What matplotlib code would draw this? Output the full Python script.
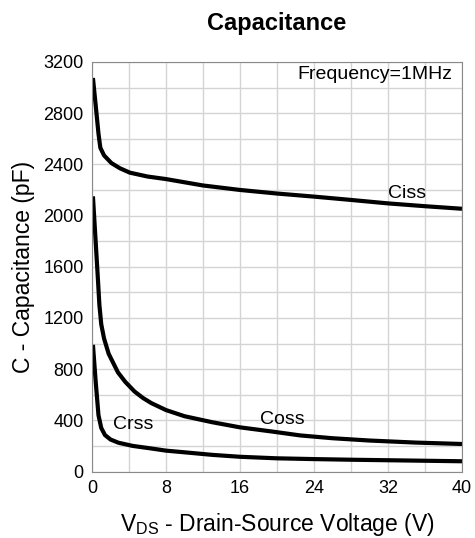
import matplotlib
matplotlib.use("Agg")
from matplotlib import pyplot as plt
from matplotlib.ticker import MultipleLocator

plt.rcParams['font.family'] = ['Liberation Sans', 'DejaVu Sans']

# values (VDS in V, C in pF)
ciss_v = [0.1, 0.4, 0.7, 0.9, 1.3, 2.1, 3.0, 4.1, 6.0, 8.0, 12, 16, 20, 24, 28, 32, 36, 40]
ciss_c = [3075, 2860, 2640, 2530, 2470, 2410, 2370, 2335, 2305, 2285, 2235, 2200, 2172, 2148, 2122, 2095, 2073, 2053]

coss_v = [0.1, 0.35, 0.6, 0.8, 1.0, 1.3, 1.8, 2.8, 3.6, 4.6, 5.5, 6.4, 8.0, 10, 13, 16, 19.5, 22.5, 26, 30, 35, 40]
coss_c = [2150, 1850, 1550, 1300, 1150, 1040, 920, 775, 700, 625, 575, 535, 480, 432, 385, 345, 312, 282, 260, 242, 226, 215]

crss_v = [0.1, 0.4, 0.7, 1.0, 1.4, 2.0, 2.85, 4.4, 6.4, 8.0, 10, 13, 16, 20, 24, 28, 32, 36, 40]
crss_c = [990, 700, 440, 340, 285, 250, 225, 200, 180, 163, 150, 130, 115, 103, 97, 92, 88, 84, 80]

fig = plt.figure(figsize=(4.75, 5.38), dpi=100)
ax = fig.add_axes([0.1937, 0.1236, 0.7789, 0.7612])

ax.plot(ciss_v, ciss_c, color="black", linewidth=3, solid_capstyle="butt")
ax.plot(coss_v, coss_c, color="black", linewidth=3, solid_capstyle="butt")
ax.plot(crss_v, crss_c, color="black", linewidth=3, solid_capstyle="butt")

ax.text(34.1, 2175, "Ciss", fontsize=14, ha="center", va="center")
ax.text(20.6, 410, "Coss", fontsize=14, ha="center", va="center")
ax.text(4.4, 364, "Crss", fontsize=14, ha="center", va="center")
ax.text(39.0, 3100, "Frequency=1MHz", fontsize=14, ha="right", va="center")

ax.set_xlim(0, 40)
ax.set_ylim(0, 3200)
ax.xaxis.set_major_locator(MultipleLocator(8))
ax.xaxis.set_minor_locator(MultipleLocator(4))
ax.yaxis.set_major_locator(MultipleLocator(400))
ax.yaxis.set_minor_locator(MultipleLocator(200))
ax.grid(True, which="both", color="#d4d4d4", linewidth=1)
ax.set_axisbelow(True)
ax.tick_params(which="both", length=0, labelsize=13, pad=6)
for s in ax.spines.values():
    s.set_color("#8a8a8a")

ax.set_title("Capacitance", fontsize=17, fontweight="bold", pad=23)
ax.set_xlabel(r"V$_{\mathregular{DS}}$ - Drain-Source Voltage (V)", fontsize=16.5, labelpad=10)
ax.set_ylabel("C - Capacitance (pF)", fontsize=16.5, labelpad=6)

plt.savefig("out.png", dpi=100)
